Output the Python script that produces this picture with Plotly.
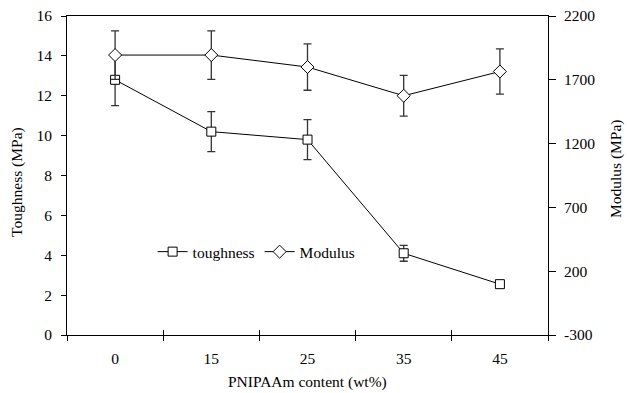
import plotly.graph_objects as go

categories = ["0", "15", "25", "35", "45"]
toughness = [12.8, 10.2, 9.8, 4.1, 2.55]
toughness_err = [1.3, 1.0, 1.0, 0.4, 0.15]
modulus = [1894, 1894, 1800, 1575, 1765]
modulus_err = [190, 190, 182, 160, 178]
modulus_ticks = [-300, 200, 700, 1200, 1700, 2200]
modulus_ticklabels = ["-300", "200", "700", "1200", "1700", "2200"]
boundary_ticks = [-0.5, 0.5, 1.5, 2.5, 3.5, 4.5]

font = dict(family="Liberation Serif", size=15.5, color="black")

fig = go.Figure()
fig.add_trace(go.Scatter(
    x=categories, y=toughness, name="toughness", mode="lines+markers",
    line=dict(color="black", width=1),
    marker=dict(symbol="square", size=9, color="white", line=dict(width=1, color="black")),
    error_y=dict(type="data", array=toughness_err, color="#333333", thickness=1.3, width=4),
))
fig.add_trace(go.Scatter(
    x=categories, y=modulus, name="Modulus", mode="lines+markers", yaxis="y2",
    line=dict(color="black", width=1),
    marker=dict(symbol="diamond", size=10, color="white", line=dict(width=1, color="black")),
    error_y=dict(type="data", array=modulus_err, color="#333333", thickness=1.3, width=4),
))
# empty helper trace so the secondary x axis (inner half of the crossing ticks) is drawn
fig.add_trace(go.Scatter(x=[], y=[], xaxis="x2", showlegend=False, hoverinfo="skip"))

fig.update_layout(
    width=627, height=393,
    margin=dict(l=67, r=79, t=16, b=58),
    plot_bgcolor="white", paper_bgcolor="white",
    font=font,
    showlegend=True,
    legend=dict(orientation="h", x=0.178, y=0.26, xanchor="left", yanchor="middle",
                bgcolor="rgba(0,0,0,0)", font=font, itemwidth=30, tracegroupgap=0),
    xaxis=dict(
        type="category", range=[-0.5, 4.5], tickson="boundaries", ticks="outside", ticklen=5,
        tickcolor="black", showline=True, linecolor="black", linewidth=1, mirror=True,
        showgrid=False, zeroline=False, automargin=False, ticklabelstandoff=9,
        tickfont=font,
    ),
    xaxis2=dict(
        overlaying="x", anchor="y", side="bottom", range=[-0.5, 4.5],
        tickmode="array", tickvals=boundary_ticks, ticks="inside", ticklen=5,
        tickcolor="black", showticklabels=False, showgrid=False, zeroline=False,
        showline=False, automargin=False,
    ),
    yaxis=dict(
        range=[0, 16], dtick=2, ticks="outside", ticklen=5, tickcolor="black",
        showline=True, linecolor="black", linewidth=1, showgrid=False, zeroline=False,
        automargin=False, ticklabelstandoff=6, ticklabeloverflow="allow",
        tickfont=font,
    ),
    yaxis2=dict(
        range=[-300, 2200], tickmode="array", tickvals=modulus_ticks, ticktext=modulus_ticklabels,
        overlaying="y", side="right",
        ticks="outside", ticklen=7, tickcolor="black",
        showline=True, linecolor="black", linewidth=1, showgrid=False, zeroline=False,
        automargin=False, ticklabelstandoff=5, ticklabeloverflow="allow",
        tickfont=font,
    ),
    annotations=[
        dict(text="Toughness (MPa)", xref="paper", yref="paper", x=0, y=0.48,
             xshift=-50, xanchor="center", yanchor="middle", textangle=-90,
             showarrow=False, font=font),
        dict(text="Modulus (MPa)", xref="paper", yref="paper", x=1, y=0.52,
             xshift=68, xanchor="center", yanchor="middle", textangle=-90,
             showarrow=False, font=font),
        dict(text="PNIPAAm content (wt%)", xref="paper", yref="paper", x=0.5, y=0,
             yshift=-47, xanchor="center", yanchor="middle",
             showarrow=False, font=font),
    ],
)

fig.write_html(
    "out.html",
    config={"displayModeBar": False},
    post_script="document.body.style.margin='0';document.body.style.overflow='hidden';",
)
